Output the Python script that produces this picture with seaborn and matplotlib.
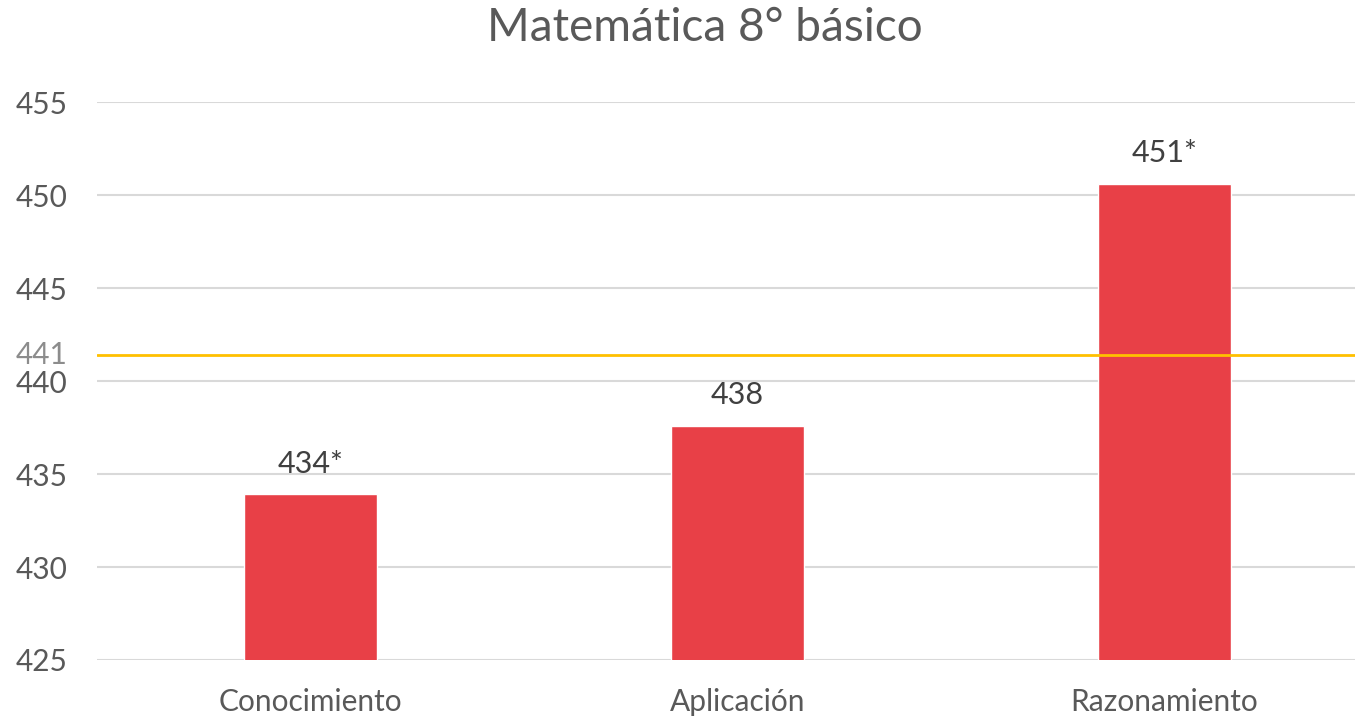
import matplotlib
matplotlib.use("Agg")
import matplotlib.pyplot as plt
import seaborn as sns
import pandas as pd

# datos
categorias = ["Conocimiento", "Aplicación", "Razonamiento"]
puntajes = [433.9, 437.6, 450.6]
etiquetas = ["434*", "438", "451*"]
promedio = 441.4
promedio_txt = "441"
yticks = [425, 430, 435, 440, 445, 450, 455]

df = pd.DataFrame({"categoria": categorias, "puntaje": puntajes})

sns.set_theme(style="white")
plt.rcParams["font.family"] = ["Lato", "DejaVu Sans"]

fig = plt.figure(figsize=(13.55, 7.17), dpi=100)
ax = fig.add_axes([0.0716, 0.0795, 0.9284, 0.7782])

sns.barplot(data=df, x="categoria", y="puntaje", color="#E84047",
            width=0.31, saturation=1, ax=ax, zorder=3)

ax.set_ylim(425, 455)
ax.set_xlim(-0.5, 2.446)
ax.set_yticks(yticks)
ax.yaxis.grid(True, color="#D9D9D9", linewidth=1.5, zorder=0)
for s in ax.spines.values():
    s.set_visible(False)
ax.tick_params(axis="both", length=0, labelsize=21.5, colors="#595959")
ax.tick_params(axis="x", pad=20)
ax.tick_params(axis="y", pad=21)
for lbl in ax.get_yticklabels():
    lbl.set_verticalalignment("center_baseline")
ax.set_xlabel("")
ax.set_ylabel("")

# linea de promedio
ax.axhline(promedio, color="#FFC000", linewidth=2, zorder=4)
ax.annotate(promedio_txt, (0, promedio), xycoords=ax.get_yaxis_transform(),
            xytext=(-21, 0), textcoords="offset points",
            ha="right", va="center", fontsize=21.5, color="#8C8C8C")

for i, (v, t) in enumerate(zip(puntajes, etiquetas)):
    ax.annotate(t, (i, v), xytext=(0, 12), textcoords="offset points",
                ha="center", va="bottom", fontsize=22, color="#404040")

fig.suptitle("Matemática 8° básico", fontsize=33, color="#595959",
             x=0.52, y=0.99)

fig.savefig("out.png", dpi=100)
